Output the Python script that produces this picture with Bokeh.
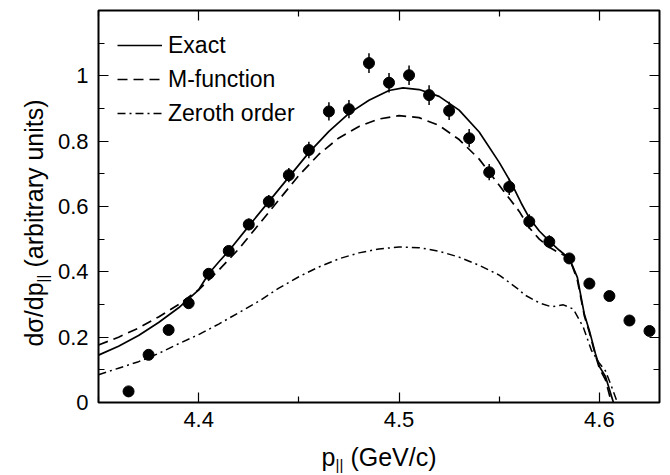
import math
import numpy as np
from bokeh.plotting import figure
from bokeh.layouts import row, column
from bokeh.models import (FixedTicker, LinearAxis, Legend, LegendItem, Range1d,
                          ColumnDataSource, CustomJSTickFormatter)
from bokeh.core.properties import value
from bokeh.embed import file_html
from bokeh.resources import INLINE

# ---------------- data ----------------
pt_x = [4.365, 4.375, 4.385, 4.395, 4.405, 4.415, 4.425, 4.435, 4.445, 4.455,
        4.465, 4.475, 4.485, 4.495, 4.505, 4.515, 4.525, 4.535, 4.545, 4.555,
        4.565, 4.575, 4.585, 4.595, 4.605, 4.615, 4.625]
pt_y = [0.034, 0.146, 0.222, 0.304, 0.394, 0.464, 0.545, 0.615, 0.696, 0.773,
        0.891, 0.898, 1.039, 0.979, 1.002, 0.941, 0.893, 0.809, 0.705, 0.660,
        0.554, 0.492, 0.441, 0.364, 0.326, 0.251, 0.219]
pt_err = [0.010, 0.010, 0.010, 0.010, 0.012, 0.015, 0.018, 0.020, 0.022, 0.025,
          0.028, 0.028, 0.030, 0.030, 0.030, 0.030, 0.028, 0.028, 0.025, 0.025,
          0.022, 0.020, 0.015, 0.010, 0.010, 0.010, 0.010]

exact_x = [4.350, 4.360, 4.370, 4.380, 4.390, 4.400, 4.405, 4.410, 4.415, 4.425,
           4.435, 4.445, 4.455, 4.465, 4.475, 4.485, 4.495, 4.502, 4.510, 4.520,
           4.530, 4.540, 4.550, 4.556, 4.561, 4.565, 4.570, 4.575, 4.580, 4.585,
           4.589, 4.5925, 4.595, 4.598, 4.600, 4.603, 4.607]
exact_y = [0.145, 0.172, 0.205, 0.245, 0.290, 0.345, 0.394, 0.430, 0.464, 0.540,
           0.615, 0.690, 0.765, 0.830, 0.885, 0.925, 0.955, 0.963, 0.958, 0.937,
           0.895, 0.828, 0.735, 0.672, 0.610, 0.565, 0.525, 0.494, 0.466, 0.441,
           0.383, 0.270, 0.220, 0.150, 0.110, 0.080, 0.000]

mfunc_x = [4.350, 4.360, 4.370, 4.380, 4.390, 4.400, 4.410, 4.420, 4.430, 4.440,
           4.450, 4.460, 4.470, 4.480, 4.490, 4.500, 4.510, 4.520, 4.530, 4.540,
           4.550, 4.560, 4.565, 4.570, 4.575, 4.580, 4.585, 4.589, 4.5925, 4.595,
           4.598, 4.600, 4.603, 4.606]
mfunc_y = [0.176, 0.200, 0.228, 0.262, 0.300, 0.345, 0.405, 0.470, 0.545, 0.620,
           0.695, 0.760, 0.810, 0.845, 0.868, 0.878, 0.872, 0.848, 0.805, 0.745,
           0.665, 0.585, 0.535, 0.500, 0.475, 0.458, 0.443, 0.375, 0.265, 0.215,
           0.145, 0.105, 0.070, 0.000]

zeroth_x = [4.350, 4.360, 4.370, 4.380, 4.390, 4.400, 4.410, 4.420, 4.430, 4.440,
            4.450, 4.460, 4.470, 4.480, 4.490, 4.500, 4.510, 4.520, 4.530, 4.540,
            4.550, 4.560, 4.5625, 4.570, 4.576, 4.582, 4.587, 4.592, 4.596, 4.600,
            4.603, 4.606, 4.609]
zeroth_y = [0.085, 0.105, 0.125, 0.150, 0.180, 0.208, 0.240, 0.275, 0.310, 0.350,
            0.385, 0.415, 0.440, 0.458, 0.470, 0.476, 0.474, 0.463, 0.445, 0.420,
            0.390, 0.345, 0.330, 0.305, 0.293, 0.299, 0.286, 0.230, 0.160, 0.120,
            0.097, 0.050, 0.000]

x_ticks = [4.4, 4.5, 4.6]
x_tick_labels = ["4.4", "4.5", "4.6"]
x_minor = [4.35, 4.45, 4.55]
y_ticks = [0.0, 0.2, 0.4, 0.6, 0.8, 1.0]
y_tick_labels = ["0", "0.2", "0.4", "0.6", "0.8", "1"]
y_minor = [0.1, 0.3, 0.5, 0.7, 0.9, 1.1]

legend_labels = ["Exact", "M-function", "Zeroth order"]

# axis-title pieces: main text, subscript, rest
ytitle_parts = ["dσ/dp", "||", "(arbitrary units)"]
xtitle_parts = ["p", "||", "(GeV/c)"]

FONT = "Liberation Sans"
TICK_FS = "22px"
TITLE_FS = "25px"
SUB_FS = "15px"

# ---------------- layout geometry ----------------
LEFT_W = 54
TOP_H = 440
BOTTOM_H = 34
TOTAL_W = 669
BORDER_TOP = 10
BORDER_BOTTOM = 38
FRAME_H = TOP_H - BORDER_TOP - BORDER_BOTTOM

# ---------------- main figure ----------------
p = figure(width=TOTAL_W - LEFT_W, height=TOP_H,
           x_range=Range1d(4.35, 4.63), y_range=Range1d(0, 1.2),
           output_backend="svg", toolbar_location=None,
           min_border_left=44, min_border_right=10,
           min_border_top=BORDER_TOP, min_border_bottom=BORDER_BOTTOM)
p.title.visible = False
p.grid.visible = False
p.outline_line_color = "black"
p.outline_line_width = 2
p.background_fill_color = "white"
p.border_fill_color = "white"

xt = FixedTicker(ticks=x_ticks, minor_ticks=x_minor)
yt = FixedTicker(ticks=y_ticks, minor_ticks=y_minor)
blank = CustomJSTickFormatter(code="return ''")


def style_axis(ax, show_labels, overrides=None):
    ax.axis_line_color = None
    ax.major_tick_in = 10
    ax.major_tick_out = 0
    ax.minor_tick_in = 6
    ax.minor_tick_out = 0
    ax.major_tick_line_color = "black"
    ax.minor_tick_line_color = "black"
    ax.major_tick_line_width = 1.2
    ax.minor_tick_line_width = 1.2
    if show_labels:
        ax.major_label_text_font = FONT
        ax.major_label_text_font_size = TICK_FS
        ax.major_label_text_color = "black"
        if overrides:
            ax.major_label_overrides = overrides
    else:
        ax.formatter = blank
        ax.major_label_standoff = 0


p.xaxis.ticker = xt
p.yaxis.ticker = yt
style_axis(p.xaxis[0], True, dict(zip(x_ticks, x_tick_labels)))
style_axis(p.yaxis[0], True, dict(zip(y_ticks, y_tick_labels)))
p.xaxis.major_label_standoff = 9
p.yaxis.major_label_standoff = 10

top_ax = LinearAxis(ticker=xt)
style_axis(top_ax, False)
p.add_layout(top_ax, "above")
right_ax = LinearAxis(ticker=yt)
style_axis(right_ax, False)
p.add_layout(right_ax, "right")

# ---------------- curves ----------------
r_exact = p.line(exact_x, exact_y, line_color="black", line_width=1.7)
r_mfunc = p.line(mfunc_x, mfunc_y, line_color="black", line_width=1.7, line_dash="10 6")
r_zero = p.line(zeroth_x, zeroth_y, line_color="black", line_width=1.5, line_dash="8 4 2 4")

# ---------------- data points ----------------
ya = np.array(pt_y)
ea = np.array(pt_err)
src = ColumnDataSource(dict(x=pt_x, y=pt_y, lo=ya - ea, hi=ya + ea))
p.segment(x0="x", y0="lo", x1="x", y1="hi", source=src, line_color="black", line_width=1.5)
p.scatter(x="x", y="y", source=src, size=11, fill_color="black", line_color="black")

# ---------------- legend ----------------
legend = Legend(items=[LegendItem(label=legend_labels[0], renderers=[r_exact]),
                       LegendItem(label=legend_labels[1], renderers=[r_mfunc]),
                       LegendItem(label=legend_labels[2], renderers=[r_zero])],
                location=(19, 274))
legend.margin = 0
legend.padding = 0
legend.spacing = 4
legend.glyph_width = 45
legend.glyph_height = 30
legend.label_height = 30
legend.label_standoff = 6
legend.label_text_font = FONT
legend.label_text_font_size = "23px"
legend.label_text_color = "black"
legend.border_line_alpha = 0
legend.background_fill_alpha = 0
p.add_layout(legend, "center")


def blank_fig(w, h, yrange, bt=0, bb=0):
    f = figure(width=w, height=h, x_range=Range1d(0, w), y_range=Range1d(0, yrange),
               x_axis_type=None, y_axis_type=None,
               output_backend="svg", toolbar_location=None,
               min_border_left=0, min_border_right=0,
               min_border_top=bt, min_border_bottom=bb)
    f.title.visible = False
    f.grid.visible = False
    f.outline_line_color = None
    f.background_fill_color = "white"
    f.border_fill_color = "white"
    return f


def put(f, x, y, txt, size, angle=0.0):
    # anchored at the centre of the text box
    f.text(x=[x], y=[y], text=[txt], angle=angle,
           text_font=value(FONT), text_font_size=value(size),
           text_baseline="middle", text_align="center", text_color="black")


# ---------------- y title (left strip; y measured from the plot frame bottom) ----------------
left = blank_fig(LEFT_W, TOP_H, FRAME_H, BORDER_TOP, BORDER_BOTTOM)
put(left, 33, 88, ytitle_parts[0], TITLE_FS, math.pi / 2)
put(left, 42, 124, ytitle_parts[1], SUB_FS, math.pi / 2)
put(left, 33, 219, ytitle_parts[2], TITLE_FS, math.pi / 2)

# ---------------- x title (bottom strip) ----------------
bottom = blank_fig(TOTAL_W, BOTTOM_H, BOTTOM_H)
put(bottom, 328, 18, xtitle_parts[0], TITLE_FS)
put(bottom, 339, 10, xtitle_parts[1], SUB_FS)
put(bottom, 393, 18, xtitle_parts[2], TITLE_FS)

layout = column(row(left, p, spacing=0), bottom, spacing=0)
open("out.html", "w").write(file_html(layout, INLINE))
